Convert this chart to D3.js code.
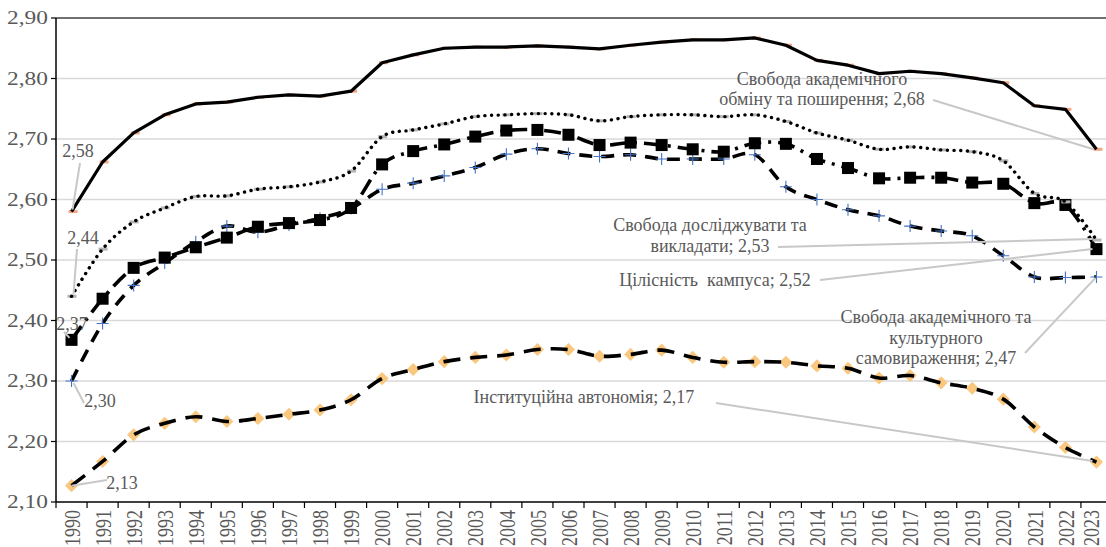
<!DOCTYPE html>
<html>
<head>
<meta charset="utf-8">
<script src="https://cdn.jsdelivr.net/npm/d3@7"></script>
<style>
  html, body { margin: 0; padding: 0; background: #fff; }
  svg { display: block; }
  text { white-space: pre; }
</style>
</head>
<body>
<svg id="chart" width="1106" height="547" font-family="'Liberation Serif', 'DejaVu Serif', serif"></svg>
<script>
// Categories
const years = [1990, 1991, 1992, 1993, 1994, 1995, 1996, 1997, 1998, 1999,
  2000, 2001, 2002, 2003, 2004, 2005, 2006, 2007, 2008, 2009,
  2010, 2011, 2012, 2013, 2014, 2015, 2016, 2017, 2018, 2019,
  2020, 2021, 2022, 2023];

const yTicks = [2.10, 2.20, 2.30, 2.40, 2.50, 2.60, 2.70, 2.80, 2.90];

// Series values
const exchange = [2.58, 2.662, 2.71, 2.74, 2.758, 2.761, 2.769, 2.773, 2.771, 2.779,
  2.826, 2.839, 2.85, 2.852, 2.852, 2.854, 2.852, 2.849, 2.855, 2.86,
  2.864, 2.864, 2.867, 2.855, 2.83, 2.822, 2.808, 2.812, 2.808, 2.801,
  2.793, 2.755, 2.749, 2.683];

const research = [2.44, 2.518, 2.563, 2.586, 2.605, 2.606, 2.617, 2.621, 2.629, 2.647,
  2.704, 2.715, 2.725, 2.737, 2.74, 2.742, 2.74, 2.73, 2.737, 2.74,
  2.74, 2.737, 2.74, 2.729, 2.71, 2.698, 2.683, 2.687, 2.682, 2.679,
  2.664, 2.61, 2.596, 2.533];

const campus = [2.368, 2.436, 2.487, 2.504, 2.521, 2.537, 2.555, 2.561, 2.566, 2.586,
  2.658, 2.68, 2.691, 2.704, 2.714, 2.715, 2.707, 2.69, 2.694, 2.69,
  2.683, 2.679, 2.693, 2.692, 2.667, 2.652, 2.635, 2.636, 2.636, 2.628,
  2.626, 2.594, 2.591, 2.518];

const expression = [2.30, 2.395, 2.458, 2.495, 2.53, 2.556, 2.546, 2.558, 2.569, 2.585,
  2.617, 2.627, 2.639, 2.653, 2.675, 2.684, 2.676, 2.671, 2.674, 2.667,
  2.667, 2.667, 2.674, 2.621, 2.60, 2.583, 2.573, 2.556, 2.548, 2.54,
  2.507, 2.472, 2.471, 2.472];

const autonomy = [2.127, 2.167, 2.211, 2.23, 2.241, 2.233, 2.238, 2.245, 2.252, 2.269,
  2.304, 2.319, 2.332, 2.339, 2.343, 2.352, 2.352, 2.341, 2.344, 2.351,
  2.339, 2.331, 2.332, 2.331, 2.325, 2.321, 2.305, 2.309, 2.297, 2.288,
  2.27, 2.224, 2.19, 2.166];

const names = {
  exchange: ["Свобода академічного", "обміну та поширення;"],
  research: ["Свобода досліджувати та", "викладати;"],
  campus: ["Цілісність  кампуса;"],
  expression: ["Свобода академічного та", "культурного", "самовираження;"],
  autonomy: ["Інституційна автономія;"]
};

const svg = d3.select("#chart");
const W = 1106;
const mLeft = 56, mRight = 1112, mTop = 18, mBottom = 502;

const x = d3.scaleBand().domain(years).range([mLeft, mRight]);
const y = d3.scaleLinear().domain([2.1, 2.9]).range([mBottom, mTop]);
const cx = (i) => x(years[i]) + x.bandwidth() / 2;
const fmt = v => d3.format(".2f")(v).replace(".", ",");

const axisColor = "#595959";
const gridColor = "#d9d9d9";
const leaderColor = "#c8c8c8";

// Grid
svg.append("g")
  .selectAll("line")
  .data(yTicks.filter(t => t > 2.1 && t < 2.9))
  .enter().append("line")
  .attr("x1", mLeft).attr("x2", W)
  .attr("y1", d => y(d)).attr("y2", d => y(d))
  .attr("stroke", gridColor).attr("stroke-width", 1.5);

// top border
svg.append("line")
  .attr("x1", mLeft).attr("x2", W)
  .attr("y1", y(2.9)).attr("y2", y(2.9))
  .attr("stroke", "#404040").attr("stroke-width", 1.5);

// Y axis
svg.append("line")
  .attr("x1", mLeft).attr("x2", mLeft)
  .attr("y1", mTop).attr("y2", mBottom)
  .attr("stroke", "#000").attr("stroke-width", 1.5);

svg.append("g")
  .selectAll("line")
  .data(yTicks)
  .enter().append("line")
  .attr("x1", mLeft - 5).attr("x2", mLeft)
  .attr("y1", d => y(d)).attr("y2", d => y(d))
  .attr("stroke", "#000").attr("stroke-width", 1.2);

svg.append("g")
  .selectAll("text")
  .data(yTicks)
  .enter().append("text")
  .attr("transform", d => `translate(48,${y(d)}) scale(1.3,1)`)
  .attr("text-anchor", "end")
  .attr("dy", "0.35em")
  .attr("font-size", 18)
  .attr("fill", axisColor)
  .text(d => fmt(d));

// X axis
svg.append("line")
  .attr("x1", mLeft).attr("x2", W)
  .attr("y1", mBottom).attr("y2", mBottom)
  .attr("stroke", "#000").attr("stroke-width", 1.5);

svg.append("g")
  .selectAll("line")
  .data(years)
  .enter().append("line")
  .attr("x1", d => x(d))
  .attr("x2", d => x(d))
  .attr("y1", mBottom).attr("y2", mBottom + 6)
  .attr("stroke", "#000").attr("stroke-width", 1.2);

// last label nudged in so it stays inside the frame
svg.append("g")
  .selectAll("text")
  .data(years)
  .enter().append("text")
  .attr("transform", d => `translate(${Math.min(x(d) + x.bandwidth() / 2, 1091)},510) scale(1.3,1) rotate(-90)`)
  .attr("text-anchor", "end")
  .attr("dy", "0.35em")
  .attr("font-size", 18)
  .attr("fill", axisColor)
  .text(d => d);

// Lines
const straight = d3.line().x((d, i) => cx(i)).y(d => y(d));
const smooth = d3.line().x((d, i) => cx(i)).y(d => y(d)).curve(d3.curveCatmullRom.alpha(0));

const plot = svg.append("g");

// autonomy: diamonds + long dash
plot.append("g").selectAll("path")
  .data(autonomy)
  .enter().append("path")
  .attr("d", d3.symbol().type(d3.symbolDiamond2).size(110))
  .attr("transform", (d, i) => `translate(${cx(i)},${y(d)})`)
  .attr("fill", "#f9c77e");
plot.append("path")
  .attr("d", smooth(autonomy))
  .attr("fill", "none").attr("stroke", "#000")
  .attr("stroke-width", 3.6).attr("stroke-dasharray", "17,10");

// expression: plus + dash
plot.append("path")
  .attr("d", smooth(expression))
  .attr("fill", "none").attr("stroke", "#000")
  .attr("stroke-width", 3.6).attr("stroke-dasharray", "13,9");
plot.append("g").selectAll("path")
  .data(expression)
  .enter().append("path")
  .attr("d", "M-6,0H6M0,-6V6")
  .attr("transform", (d, i) => `translate(${cx(i)},${y(d)})`)
  .attr("stroke", "#4472c4").attr("stroke-width", 1.1);

// campus: squares + dash-dot
plot.append("path")
  .attr("d", smooth(campus))
  .attr("fill", "none").attr("stroke", "#000")
  .attr("stroke-width", 3.6).attr("stroke-dasharray", "17,7,3,7");
plot.append("g").selectAll("rect")
  .data(campus)
  .enter().append("rect")
  .attr("x", (d, i) => cx(i) - 6).attr("y", d => y(d) - 6)
  .attr("width", 12).attr("height", 12)
  .attr("fill", "#000");

// research: grey dash markers + round dots
plot.append("g").selectAll("rect")
  .data(research)
  .enter().append("rect")
  .attr("x", (d, i) => cx(i) - 4).attr("y", d => y(d) - 1.5)
  .attr("width", 9).attr("height", 3)
  .attr("fill", "#b4b4b4");
plot.append("path")
  .attr("d", smooth(research))
  .attr("fill", "none").attr("stroke", "#000")
  .attr("stroke-width", 3.4).attr("stroke-linecap", "round")
  .attr("stroke-dasharray", "0.1,6.6");

// exchange: salmon dash markers + solid
plot.append("g").selectAll("rect")
  .data(exchange)
  .enter().append("rect")
  .attr("x", (d, i) => cx(i) - 3).attr("y", d => y(d) - 1.5)
  .attr("width", 9).attr("height", 3)
  .attr("fill", "#f4a582");
plot.append("path")
  .attr("d", straight(exchange))
  .attr("fill", "none").attr("stroke", "#000")
  .attr("stroke-width", 3.2).attr("stroke-linejoin", "round");

// Data labels
const ann = svg.append("g");
const last = years.length - 1;

function leader(x1, y1, x2, y2) {
  ann.append("line")
    .attr("x1", x1).attr("y1", y1).attr("x2", x2).attr("y2", y2)
    .attr("stroke", leaderColor).attr("stroke-width", 2);
}
function label(lines, xc, yc, lh) {
  const t = ann.append("text")
    .attr("text-anchor", "middle")
    .attr("font-size", 18)
    .attr("fill", axisColor);
  lines.forEach((s, k) => {
    t.append("tspan")
      .attr("x", xc)
      .attr("y", yc + k * lh)
      .attr("dy", "0.35em")
      .text(s);
  });
}

// left (first values)
leader(80, 163, cx(0) + 1, y(exchange[0]) - 2);
label([fmt(exchange[0])], 78, 151, 20);
leader(77, 249, cx(0) + 2, y(research[0]) - 2);
label([fmt(research[0])], 83, 238, 20);
leader(64, 332, cx(0) - 2, y(campus[0]) - 2);
label([fmt(campus[0])], 72, 324, 20);
leader(cx(0) + 2, y(expression[0]) + 2, 84, 403);
label([fmt(expression[0])], 100, 401, 20);
leader(cx(0), y(autonomy[0]), 107, 480);
label([fmt(autonomy[0])], 122, 483, 20);

// right (last values)
leader(933, 100, cx(last) - 3, y(exchange[last]));
label([names.exchange[0], names.exchange[1] + " " + fmt(exchange[last])], 822, 79, 20);
leader(778, 247, cx(last) - 4, y(research[last]) - 1);
label([names.research[0], names.research[1] + " " + fmt(research[last])], 710, 225, 21);
leader(820, 280, cx(last) - 4, y(campus[last]));
label([names.campus[0] + " " + fmt(campus[last])], 715, 280, 20);
leader(1025, 353, cx(last) - 1, y(expression[last]) + 1);
label([names.expression[0], names.expression[1], names.expression[2] + " " + fmt(expression[last])], 936, 317, 20.5);
leader(716, 403, cx(last) - 4, y(autonomy[last]) - 1);
label([names.autonomy[0] + " " + fmt(autonomy[last])], 584, 397, 20);
</script>
</body>
</html>
